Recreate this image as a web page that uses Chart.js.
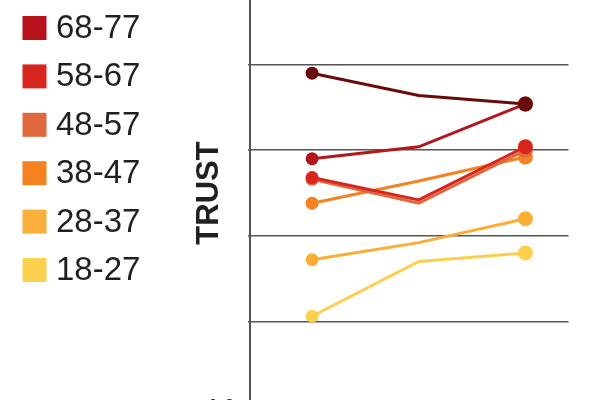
<!DOCTYPE html>
<html>
<head>
<meta charset="utf-8">
<script src="https://cdn.jsdelivr.net/npm/chart.js@4"></script>
<style>
  html, body { margin: 0; padding: 0; background: #fff; overflow: hidden; }
  body { width: 600px; height: 400px; position: relative; }
  #trustChart { position: absolute; left: 0; top: -46px; }
</style>
</head>
<body>
<canvas id="trustChart" width="600" height="478"></canvas>
<script>
// survey waves (x positions) and age groups shown in the legend
const waves = [1, 2, 3];
const ageGroups = ['68-77', '58-67', '48-57', '38-47', '28-37', '18-27'];

// trust score per wave
const trustOldest = [0.95, 0.82, 0.77]; // top series, its legend entry is cut off
const trust68 = [0.45, 0.52, 0.77];
const trust58 = [0.34, 0.21, 0.52];
const trust48 = [0.33, 0.19, 0.50];
const trust38 = [0.19, 0.32, 0.46];
const trust28 = [-0.14, -0.04, 0.10];
const trust18 = [-0.47, -0.15, -0.10];

const shownTick = -1.0;

const colors = {
    oldest: '#6b0a0a',
    g68: '#b3161b',
    g58: '#d9261c',
    g48: '#e0683f',
    g38: '#f58220',
    g28: '#fbad34',
    g18: '#fdcf4a'
};
const legendColors = ['#b5121b', '#d7261e', '#e0683f', '#f5821f', '#fbb03b', '#fdd04e'];

const CANVAS_SHIFT = 46; // canvas sits 46px above the page top

function toPoints(values) {
    return values.map((v, i) => ({ x: waves[i], y: v }));
}

function makeSet(label, values, color, order) {
    return {
        label: label,
        data: toPoints(values),
        borderColor: color,
        backgroundColor: color,
        borderWidth: 3,
        tension: 0,
        pointRadius: [6.5, 0, 7.5],
        pointBorderWidth: 0,
        pointBackgroundColor: color,
        order: order
    };
}

// legend drawn on the canvas, left column
const sideLegend = {
    id: 'sideLegend',
    afterDraw(chart) {
        const ctx = chart.ctx;
        ctx.save();
        ctx.font = '33px "Liberation Sans", Arial, sans-serif';
        ctx.textBaseline = 'middle';
        ctx.textAlign = 'left';
        ageGroups.forEach((label, i) => {
            const cy = 28 + i * 48.4 + CANVAS_SHIFT;
            ctx.fillStyle = legendColors[i];
            ctx.fillRect(22.5, cy - 12, 24, 24);
            ctx.fillStyle = '#231f20';
            ctx.fillText(label, 56, cy + 1);
        });
        ctx.restore();
    }
};

const ctx = document.getElementById('trustChart').getContext('2d');
new Chart(ctx, {
    type: 'line',
    data: {
        datasets: [
            makeSet('78+', trustOldest, colors.oldest, 0),
            makeSet(ageGroups[0], trust68, colors.g68, 1),
            makeSet(ageGroups[1], trust58, colors.g58, 2),
            makeSet(ageGroups[2], trust48, colors.g48, 3),
            makeSet(ageGroups[3], trust38, colors.g38, 4),
            makeSet(ageGroups[4], trust28, colors.g28, 5),
            makeSet(ageGroups[5], trust18, colors.g18, 6)
        ]
    },
    options: {
        responsive: false,
        animation: false,
        devicePixelRatio: 1,
        layout: {
            padding: { left: 191, right: 31.5, top: 0, bottom: 0 }
        },
        plugins: {
            legend: { display: false },
            tooltip: { enabled: false }
        },
        scales: {
            x: {
                type: 'linear',
                display: false,
                min: 0.418,
                max: 3.404
            },
            y: {
                min: -1.0,
                max: 1.5,
                afterFit: (scale) => { scale.width = 59; },
                ticks: {
                    stepSize: 0.5,
                    padding: 13,
                    font: { family: '"Liberation Sans", Arial, sans-serif', size: 20, weight: 'bold' },
                    color: (c) => (Math.abs(c.tick.value - shownTick) < 1e-6 ? '#231f20' : 'rgba(0,0,0,0)'),
                    callback: (v) => v.toFixed(1)
                },
                grid: {
                    color: '#555555',
                    lineWidth: 1.5,
                    tickLength: 2,
                    drawTicks: true
                },
                border: {
                    display: true,
                    color: '#555555',
                    width: 2
                },
                title: {
                    display: true,
                    text: 'TRUST',
                    color: '#231f20',
                    padding: 0,
                    font: { family: '"Liberation Sans", Arial, sans-serif', size: 31, weight: 'bold' }
                }
            }
        }
    },
    plugins: [sideLegend]
});
</script>
</body>
</html>
